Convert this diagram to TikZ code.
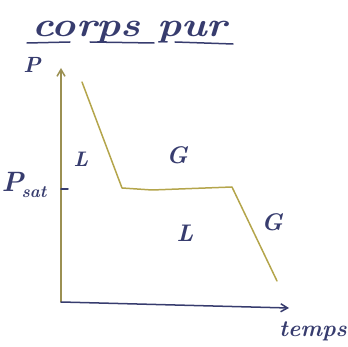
\documentclass[tikz,border=0pt]{standalone}
\usepackage{tikz}
\usetikzlibrary{arrows.meta}
\definecolor{ink}{RGB}{55,60,110}
\definecolor{pencil}{RGB}{180,165,75}
\tikzset{
  hand/.style={ink, font=\bfseries\itshape\fontsize{#1}{#1}\selectfont},
  hand/.default=20,
  pen/.style={line width=1.5pt},
  axis/.style={pen, -{Straight Barb[length=2.4mm,width=2.8mm]}},
}
\begin{document}
\begin{tikzpicture}[x=1pt,y=-1pt,line cap=round,line join=round]
\useasboundingbox (0,0) rectangle (348,347);
% title
\node[hand=34, inner sep=0pt, anchor=base, xscale=1.2] (title) at (130,37) {corps pur};
\draw[ink, pen] (27,43) -- (70,42);
\draw[ink, pen] (90,42) -- (154,43);
\draw[ink, pen] (175,42) -- (233,44);
% axes
\coordinate (O) at (61,302);
\coordinate (ptop) at (61,68);
\coordinate (tend) at (289,308);
\draw[axis, pencil!80!ink] (O) -- (ptop);
\draw[axis, ink] (O) -- (tend);
\node[hand=22] (plab) at (32,65) {P};
\node[hand=23] (tlab) at (313,331) {temps};
% saturation pressure mark
\coordinate (psat) at (61,189);
\coordinate (psatr) at (68,189);
\draw[ink, pen] (psat) -- (psatr);
\node[hand=28, anchor=east] (psatlab) at (50,185) {P\kern-2pt\raisebox{-6pt}{\fontsize{17}{17}\selectfont sat}};
% curve
\coordinate (c1) at (82,82);
\coordinate (c2) at (122,188);
\coordinate (c3) at (152,190);
\coordinate (c4) at (232,187);
\coordinate (c5) at (277,281);
\draw[pencil, pen] (c1) -- (c2) -- (c3) -- (c4) -- (c5);
% phase labels
\node[hand=21] (liq1) at (81,159) {L};
\node[hand=24] (gas1) at (177,155) {G};
\node[hand=24] (liq2) at (185,233) {L};
\node[hand=24] (gas2) at (272,222) {G};
\end{tikzpicture}
\end{document}
